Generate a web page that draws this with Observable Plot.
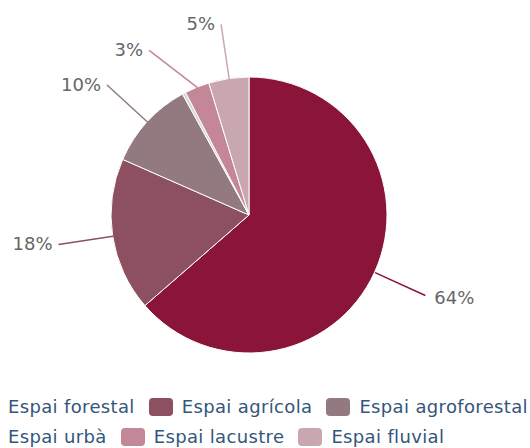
<!DOCTYPE html>
<html>
<head>
<meta charset="utf-8">
<script src="https://cdn.jsdelivr.net/npm/d3@7"></script>
<script src="https://cdn.jsdelivr.net/npm/@observablehq/plot@0.6"></script>
<style>
  html, body { margin: 0; padding: 0; background: #fff; width: 530px; height: 448px; overflow: hidden; }
  #legend { display: flex; flex-wrap: wrap; column-gap: 14px; margin-left: -25px; width: 585px;
            font-family: "DejaVu Sans", Verdana, sans-serif; font-size: 18px; line-height: 30px; color: #34567a;
            letter-spacing: 0.35px; }
  .item { display: flex; align-items: center; white-space: nowrap; }
  .sw { width: 24px; height: 18px; border-radius: 4px; margin-right: 9px; }
</style>
</head>
<body>
<div id="chart"></div>
<div id="legend"></div>
<script>
const categories = ["Espai forestal", "Espai agrícola", "Espai agroforestal", "Espai urbà", "Espai lacustre", "Espai fluvial"];
const values = [63.6, 18.0, 10.4, 0.4, 2.9, 4.7];
const colors = ["#8a1538", "#8c5061", "#927a80", "#dad6d7", "#c48797", "#c9a7af"];

// layout
const W = 530, H = 392, cx = 249, cy = 215, r = 138;
const labelR = 1.4, minGap = 26 / r;

const rows = categories.map((c, i) => ({category: c, value: values[i]}));
const arcs = d3.pie().sort(null).value(d => d.value)(rows);

// label positions (data units, y up)
const labs = arcs.map(a => {
  const mid = (a.startAngle + a.endAngle) / 2;
  return {
    category: a.data.category,
    value: a.data.value,
    label: Math.round(a.data.value) + "%",
    mid,
    ex: Math.sin(mid), ey: Math.cos(mid),
    lx: labelR * Math.sin(mid), ly: labelR * Math.cos(mid),
    left: Math.sin(mid) < 0
  };
}).filter(d => d.value >= 1);

// spread left-side labels vertically to avoid overlap
const leftLabs = labs.filter(d => d.left).sort((a, b) => b.ly - a.ly);
for (let i = 1; i < leftLabs.length; i++) {
  if (leftLabs[i - 1].ly - leftLabs[i].ly < minGap) {
    leftLabs[i].ly = leftLabs[i - 1].ly - minGap;
    leftLabs[i].lx = -Math.sqrt(Math.max(0, labelR * labelR - leftLabs[i].ly ** 2));
  }
}

const pie = (index, scales) => {
  const x0 = scales.x(0), y0 = scales.y(0), rad = scales.x(1) - scales.x(0);
  const color = scales.color || (c => colors[categories.indexOf(c)]);
  const g = d3.create("svg:g").attr("transform", `translate(${x0},${y0})`);
  const arcGen = d3.arc().innerRadius(0).outerRadius(rad);
  g.selectAll("path").data(arcs).join("path")
    .attr("d", arcGen)
    .attr("fill", d => color(d.data.category))
    .attr("stroke", "#ffffff")
    .attr("stroke-width", 1)
    .attr("stroke-linejoin", "round");
  return g.node();
};

const textStyle = {fill: "#666666", fontSize: 18, fontFamily: "DejaVu Sans, Verdana, sans-serif"};

const chart = Plot.plot({
  width: W,
  height: H,
  margin: 0,
  style: {background: "#fff", overflow: "visible"},
  x: {domain: [-1, 1], range: [cx - r, cx + r], axis: null},
  y: {domain: [-1, 1], range: [cy + r, cy - r], axis: null},
  color: {domain: categories, range: colors, legend: false},
  marks: [
    pie,
    Plot.link(labs, {x1: "ex", y1: "ey", x2: "lx", y2: "ly", stroke: "category", strokeWidth: 1.5}),
    Plot.text(labs.filter(d => d.left), {x: "lx", y: "ly", text: "label", textAnchor: "end", dx: -6, ...textStyle}),
    Plot.text(labs.filter(d => !d.left), {x: "lx", y: "ly", text: "label", textAnchor: "start", dx: 9, dy: 3, ...textStyle})
  ]
});
document.getElementById("chart").appendChild(chart);

const legend = d3.select("#legend");
categories.forEach((c, i) => {
  const it = legend.append("div").attr("class", "item");
  it.append("div").attr("class", "sw").style("background", colors[i]);
  it.append("span").text(c);
});
</script>
</body>
</html>
